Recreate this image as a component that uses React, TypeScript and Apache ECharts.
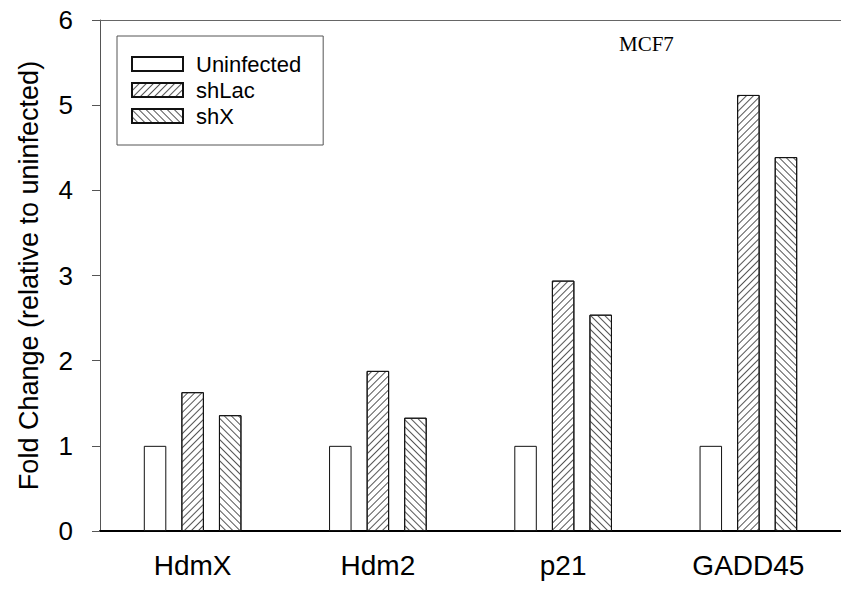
import React, { useEffect, useRef } from "react";
import * as echarts from "echarts";

const categories = ["HdmX", "Hdm2", "p21", "GADD45"];
const uninfected = [1, 1, 1, 1];
const shLac = [1.63, 1.88, 2.94, 5.12];
const shX = [1.36, 1.33, 2.54, 4.39];
const yTicks = { min: 0, max: 6, interval: 1 };
const seriesNames = ["Uninfected", "shLac", "shX"];
const panelLabel = "MCF7";

const SANS = "'Liberation Sans', Arial, sans-serif";

export default function App() {
  const ref = useRef<HTMLDivElement>(null);
  useEffect(() => {
    document.body.style.margin = "0";
    const chart = echarts.init(ref.current!, null, { renderer: "svg" });
    const barBase = {
      type: "bar" as const,
      barWidth: 22.5,
      barGap: "67%",
    };
    const stripe = (rot: number) => ({
      symbol: "rect",
      symbolSize: 1,
      dashArrayX: [1, 0],
      dashArrayY: [1, 4],
      rotation: rot,
      color: "#555",
    });
    chart.setOption({
      animation: false,
      backgroundColor: "#fff",
      grid: { left: 100, top: 20, width: 751, height: 511 },
      title: {
        text: panelLabel,
        left: 619,
        top: 33,
        padding: 0,
        textStyle: {
          fontFamily: "'Liberation Serif', 'Times New Roman', serif",
          fontSize: 21,
          fontWeight: "normal",
          color: "#000",
        },
      },
      legend: {
        orient: "vertical",
        left: 117,
        top: 36,
        padding: [17, 22, 18, 14],
        itemGap: 4,
        itemWidth: 51,
        itemHeight: 14,
        borderColor: "#555",
        borderWidth: 1,
        icon: "rect",
        data: seriesNames,
        textStyle: {
          fontFamily: SANS,
          fontSize: 22,
          color: "#000",
          lineHeight: 22,
          padding: [0, 0, 0, 8],
        },
      },
      xAxis: [
        {
          type: "category",
          data: categories,
          position: "bottom",
          axisLine: { lineStyle: { color: "#000", width: 2 } },
          axisTick: { alignWithLabel: true, length: 7, lineStyle: { color: "#555" } },
          axisLabel: { fontFamily: SANS, fontSize: 28, color: "#000", margin: 20 },
        },
        {
          type: "category",
          data: categories,
          position: "top",
          axisLine: { lineStyle: { color: "#666", width: 1 } },
          axisTick: { show: false },
          axisLabel: { show: false },
        },
      ],
      yAxis: {
        type: "value",
        min: yTicks.min,
        max: yTicks.max,
        interval: yTicks.interval,
        name: "Fold Change (relative to uninfected)",
        nameLocation: "middle",
        nameGap: 58,
        nameTextStyle: { fontFamily: SANS, fontSize: 27, color: "#000" },
        axisLine: { show: true, lineStyle: { color: "#555", width: 1 } },
        axisTick: { show: true, length: 8, lineStyle: { color: "#555" } },
        axisLabel: { fontFamily: SANS, fontSize: 26, color: "#000", margin: 27 },
        splitLine: { show: false },
      },
      series: [
        {
          ...barBase,
          name: seriesNames[0],
          data: uninfected,
          itemStyle: { color: "#fff", borderColor: "#111", borderWidth: 1 },
        },
        {
          ...barBase,
          name: seriesNames[1],
          data: shLac,
          itemStyle: {
            color: "#fff",
            borderColor: "#111",
            borderWidth: 1,
            decal: stripe(-Math.PI / 4),
          },
        },
        {
          ...barBase,
          name: seriesNames[2],
          data: shX,
          itemStyle: {
            color: "#fff",
            borderColor: "#111",
            borderWidth: 1,
            decal: stripe(Math.PI / 4),
          },
        },
      ],
    });
    return () => chart.dispose();
  }, []);
  return <div ref={ref} style={{ width: 841, height: 590 }} />;
}
